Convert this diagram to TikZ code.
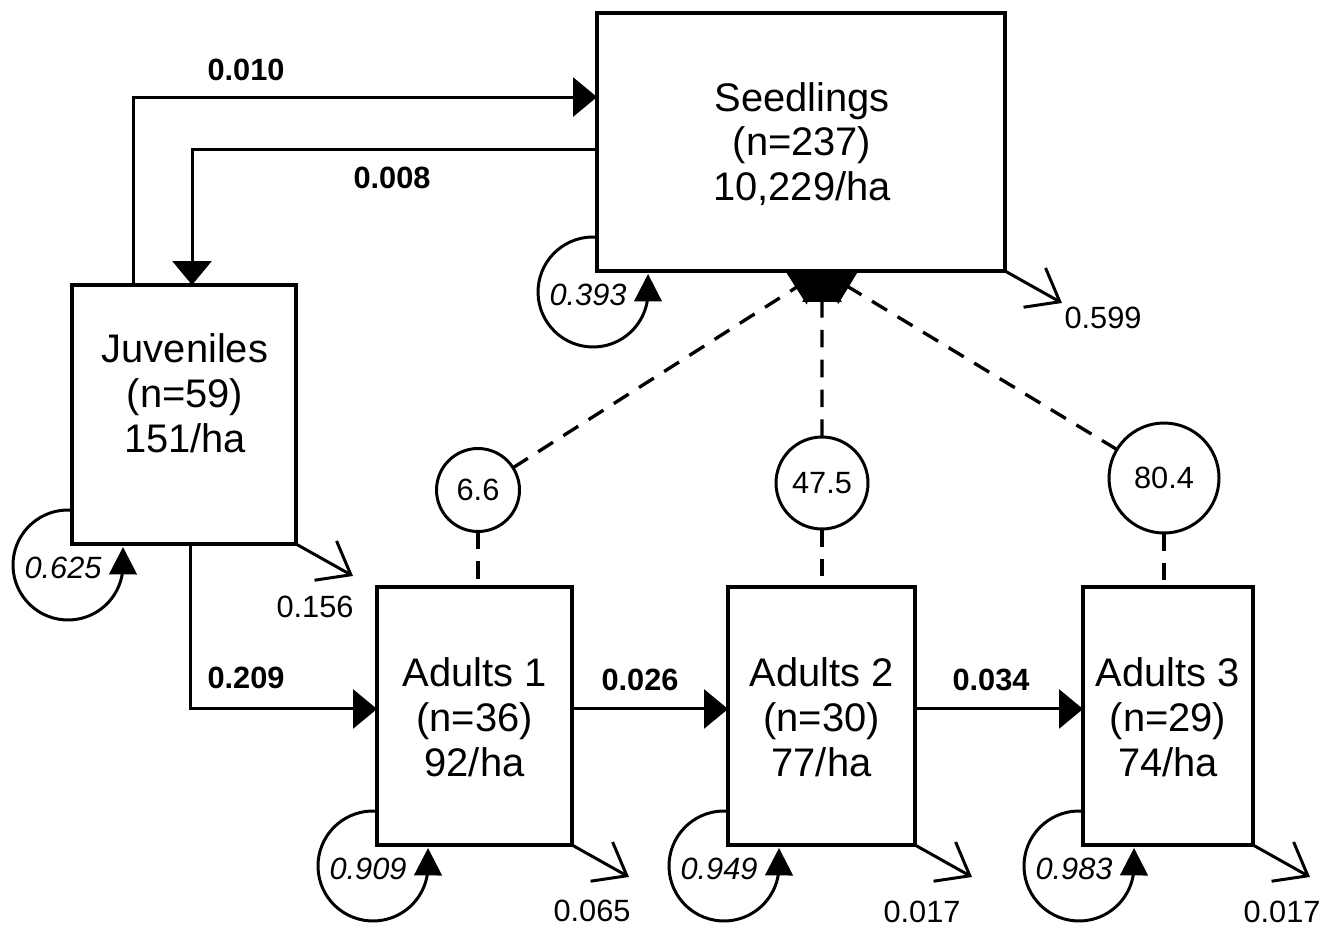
\documentclass[tikz,border=0pt]{standalone}
\usepackage{fontspec}
\setmainfont{Liberation Sans}
\usetikzlibrary{arrows.meta,calc}
\begin{document}
\begin{tikzpicture}[x=0.02cm,y=0.02cm,line width=1.7pt,
  box/.style={draw,line width=1.8pt,fill=white,outer sep=0pt,inner sep=0pt},
  btxt/.style={font=\fontsize{22.7}{25.5}\selectfont,align=center,inner sep=0pt},
  lab/.style={font=\fontsize{17.5}{20}\selectfont,inner sep=0pt},
  blab/.style={font=\fontsize{17.5}{20}\selectfont\bfseries,inner sep=0pt},
  ilab/.style={font=\fontsize{17.5}{20}\selectfont\itshape,inner sep=0pt},
  circ/.style={draw,circle,inner sep=0pt,outer sep=0pt,font=\fontsize{17.5}{20}\selectfont},
  arr/.style={-{Triangle[length=0.48cm,width=0.78cm]}},
  darr/.style={line width=1.9pt,dash pattern=on 10pt off 7pt,-{Triangle[length=0.62cm,width=0.78cm]}},
  dsh/.style={line width=1.9pt,dash pattern=on 10pt off 7pt},
  mort/.style={-{Straight Barb[length=0.58cm,width=0.9cm]}},
  loopa/.style={-{Triangle[length=0.55cm,width=0.55cm]}}]
\useasboundingbox (0,0) rectangle (1331,-927);

% boxes
\node[box,minimum width=8.16cm,minimum height=5.16cm] (S) at (801,-142) {};
\node[box,minimum width=4.48cm,minimum height=5.18cm] (J) at (184,-414.5) {};
\node[box,minimum width=3.9cm,minimum height=5.16cm] (A1) at (474.5,-716) {};
\node[box,minimum width=3.74cm,minimum height=5.16cm] (A2) at (821.5,-716) {};
\node[box,minimum width=3.4cm,minimum height=5.16cm] (A3) at (1168,-716) {};

% box texts
\node[btxt] (St) at (802,-144) {Seedlings\\(n=237)\\10,229/ha};
\node[btxt] (Jt) at (185,-393) {Juveniles\\(n=59)\\151/ha};
\node[btxt] (A1t) at (474.5,-717) {Adults 1\\(n=36)\\92/ha};
\node[btxt] (A2t) at (821.5,-717) {Adults 2\\(n=30)\\77/ha};
\node[btxt] (A3t) at (1168,-717) {Adults 3\\(n=29)\\74/ha};

% transitions
\draw[arr] ($(J.north west)+(61,0)$) |- ($(S.north west)+(0,-84)$);
\draw[arr] ($(S.north west)+(0,-136)$) -| ($(J.north west)+(120,0)$);
\draw[arr] ($(J.south west)+(118,0)$) |- ($(A1.south west)+(0,136)$);
\draw[arr] ($(A1.south east)+(0,136)$) -- ($(A2.south west)+(0,136)$);
\draw[arr] ($(A2.south east)+(0,136)$) -- ($(A3.south west)+(0,136)$);

\node[blab] (l010) at (246,-70) {0.010};
\node[blab] (l008) at (392,-178) {0.008};
\node[blab] (l209) at (246,-678) {0.209};
\node[blab] (l026) at (640,-680) {0.026};
\node[blab] (l034) at (991,-680) {0.034};

% survival loops
\foreach \b/\v in {S/0.393,J/0.625,A1/0.909,A2/0.949,A3/0.983}{
  \draw[loopa] ($(\b.south west)+(0,33.85)$) arc[start angle=85.8,end angle=360,radius=55]
     -- ($(\b.south west)+(51,-3)$);
  \node[ilab] (\b loop) at ($(\b.south west)+(-9,-24)$) {\v};
}

% mortality
\foreach \b in {S,J,A1,A2,A3}{
  \coordinate (\b m) at ($(\b.south east)+(57,-32)$);
  \draw[mort] (\b.south east) -- (\b m);
}
\node[lab] (m599) at (1103,-318) {0.599};
\node[lab] (m156) at (315,-607) {0.156};
\node[lab] (m065) at (592,-911) {0.065};
\node[lab] (m017a) at (922,-912) {0.017};
\node[lab] (m017b) at (1282,-912) {0.017};

% fecundity
\node[circ,minimum size=1.66cm] (c1) at (478,-490) {6.6};
\node[circ,minimum size=1.84cm] (c2) at (822,-483) {47.5};
\node[circ,minimum size=2.2cm] (c3) at (1164,-478) {80.4};
\coordinate (sin) at ($(S.south west)+(225,0)$);
\draw[darr] (c1) -- (sin);
\draw[darr] (c3) -- (sin);
\draw[darr] (c2) -- (sin);
\draw[dsh] (c1.south) -- (c1.south |- A1.north);
\draw[dsh] (c2.south) -- (c2.south |- A2.north);
\draw[dsh] (c3.south) -- (c3.south |- A3.north);
\end{tikzpicture}
\end{document}
